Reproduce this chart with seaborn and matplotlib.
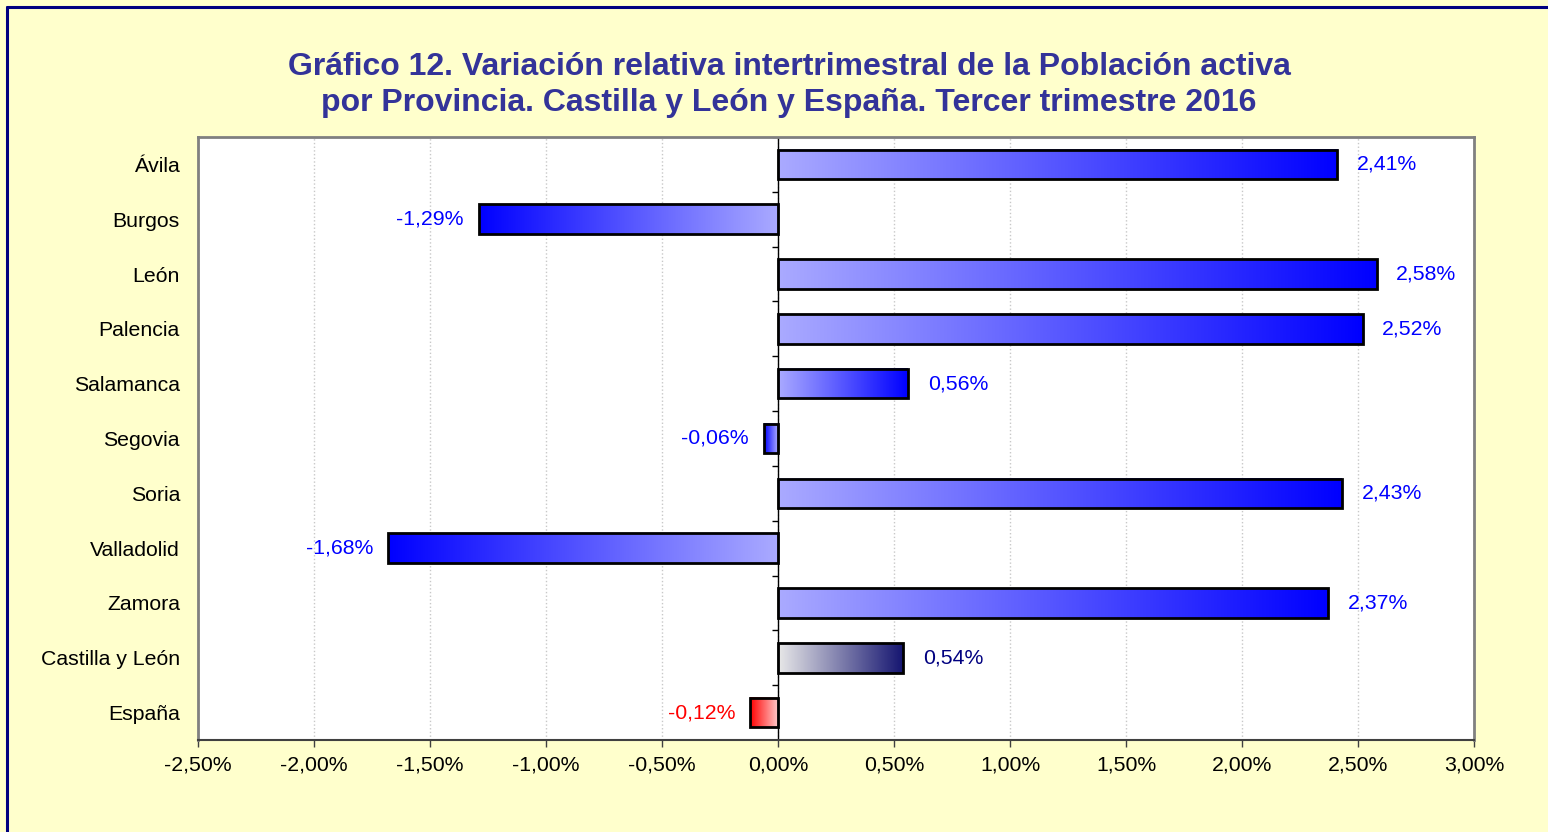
import numpy as np
import pandas as pd
import seaborn as sns
import matplotlib.pyplot as plt
from matplotlib.colors import LinearSegmentedColormap
from matplotlib.lines import Line2D

# Datos del gráfico
provincias = ['Ávila', 'Burgos', 'León', 'Palencia', 'Salamanca', 'Segovia',
              'Soria', 'Valladolid', 'Zamora', 'Castilla y León', 'España']
variacion = [2.41, -1.29, 2.58, 2.52, 0.56, -0.06, 2.43, -1.68, 2.37, 0.54, -0.12]
xticks = [-2.5, -2.0, -1.5, -1.0, -0.5, 0.0, 0.5, 1.0, 1.5, 2.0, 2.5, 3.0]

# (color junto al cero, color en el extremo, color de etiqueta)
azul = ('#AAAAFF', '#0000FF', '#0000FF')
estilos = [azul] * 9 + [('#E8E8E8', '#141470', '#000080'),
                        ('#FFC8C8', '#FF0000', '#FF0000')]

df = pd.DataFrame({'Provincia': provincias, 'Variacion': variacion})

sns.set_theme(style='white')
plt.rcParams['font.family'] = ['Liberation Sans', 'DejaVu Sans']

fig = plt.figure(figsize=(15.48, 8.32), dpi=100, facecolor='#FFFFCC')
ax = fig.add_axes([198 / 1548, 1 - 740 / 832, 1276 / 1548, 603 / 832])
ax.set_facecolor('white')

sns.barplot(data=df, x='Variacion', y='Provincia', orient='h', width=0.54,
            color='white', edgecolor='black', linewidth=2, ax=ax)

# degradados dentro de cada barra
grad = np.linspace(0, 1, 256).reshape(1, -1)
for patch, v, (claro, oscuro, _) in zip(ax.patches, variacion, estilos):
    x0, w = patch.get_x(), patch.get_width()
    y0, h = patch.get_y(), patch.get_height()
    left, right = min(x0, x0 + w), max(x0, x0 + w)
    if v >= 0:
        cmap = LinearSegmentedColormap.from_list('g', [claro, oscuro])
    else:
        cmap = LinearSegmentedColormap.from_list('g', [oscuro, claro])
    ax.imshow(grad, cmap=cmap, extent=(left, right, y0 + h, y0),
              aspect='auto', zorder=2, interpolation='bicubic')
    patch.set_facecolor('none')
    patch.set_zorder(3)

n = len(provincias)
ax.set_xlim(-2.5, 3.0)
ax.set_ylim(n - 0.5, -0.5)

# eje vertical en el cero con marcas entre categorías
ax.axvline(0, color='black', lw=1, zorder=2.5)
ax.hlines(np.arange(-0.5, n), -0.025, 0, color='black', lw=1, zorder=2.5)

# etiquetas de valor
for i, (v, est) in enumerate(zip(variacion, estilos)):
    txt = f'{v:.2f}%'.replace('.', ',')
    if v >= 0:
        ax.text(v + 0.085, i, txt, ha='left', va='center', fontsize=15.3, color=est[2])
    else:
        ax.text(v - 0.065, i, txt, ha='right', va='center', fontsize=15.3, color=est[2])

ax.set_xticks(xticks)
ax.set_xticklabels([f'{t:.2f}%'.replace('.', ',') for t in xticks])
ax.xaxis.grid(True, color='#C8C8C8', linestyle=':', linewidth=1)
ax.set_axisbelow(True)
ax.tick_params(axis='x', direction='out', length=5, width=1, color='#404040',
               pad=6, labelsize=15.3, labelcolor='black', bottom=True)
ax.tick_params(axis='y', length=0, pad=13, labelsize=15.3, labelcolor='black')
ax.set_xlabel('')
ax.set_ylabel('')

for s in ['top', 'left', 'right']:
    ax.spines[s].set_color('#808080')
    ax.spines[s].set_linewidth(2)
ax.spines['bottom'].set_color('#404040')
ax.spines['bottom'].set_linewidth(1.5)

fig.text(789 / 1548, 1 - 85 / 832,
         'Gráfico 12. Variación relativa intertrimestral de la Población activa\n'
         'por Provincia. Castilla y León y España. Tercer trimestre 2016',
         ha='center', va='center', fontsize=23, fontweight='bold',
         color='#333399', linespacing=1.25)

# borde del gráfico (arriba e izquierda)
fig.add_artist(Line2D([7 / 1548, 1], [1 - 7 / 832] * 2, transform=fig.transFigure,
                      color='#000080', lw=2.2))
fig.add_artist(Line2D([7 / 1548] * 2, [0, 1 - 7 / 832], transform=fig.transFigure,
                      color='#000080', lw=2.2))

fig.savefig('out.png', dpi=100, facecolor=fig.get_facecolor())
